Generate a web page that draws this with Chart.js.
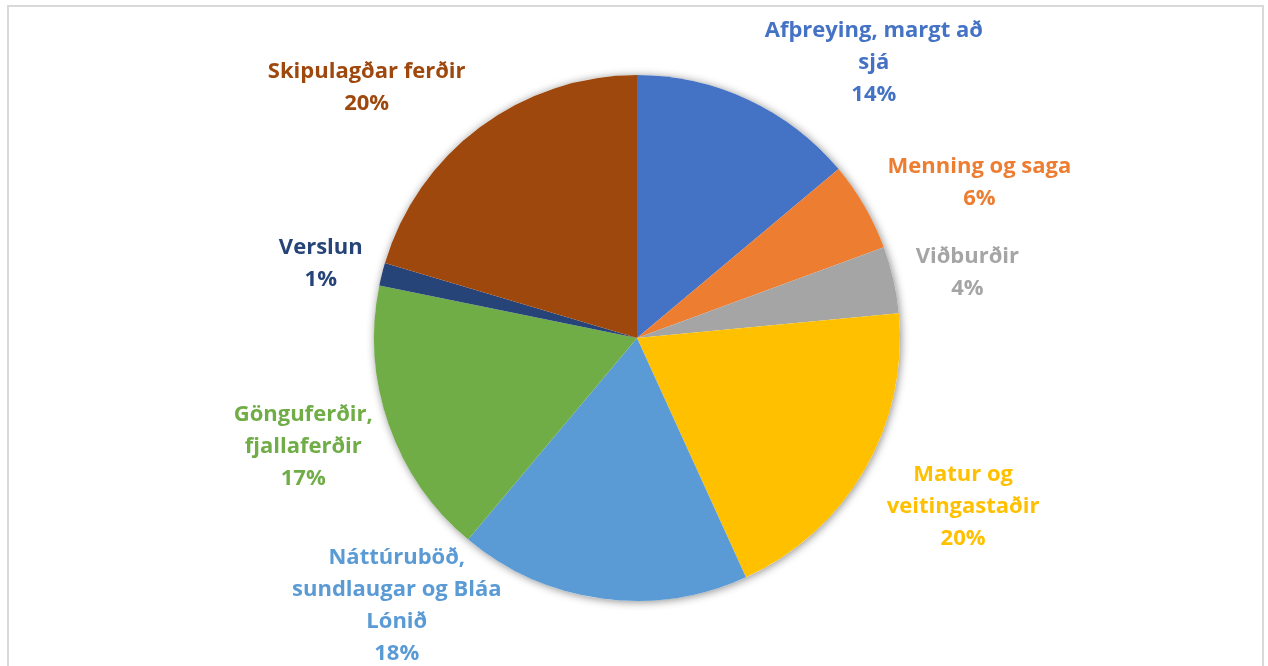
<!DOCTYPE html>
<html>
<head>
<meta charset="utf-8">
<title>Pie</title>
<script src="https://cdn.jsdelivr.net/npm/chart.js@4/dist/chart.umd.min.js"></script>
<style>
  body { margin: 0; background: #fff; }
  #wrap { position: relative; width: 1268px; height: 666px; overflow: hidden; }
  #frame { position: absolute; left: 7px; top: 5px; width: 1257px; height: 700px;
           border: 2px solid #d9d9d9; box-sizing: border-box; }
  canvas { position: absolute; left: 0; top: 0; }
</style>
</head>
<body>
<div id="wrap">
  <div id="frame"></div>
  <canvas id="chart" width="1268" height="666"></canvas>
</div>
<script>
// categories, one array of text lines each
var categories = [
  ["Afþreying, margt að", "sjá"],
  ["Menning og saga"],
  ["Viðburðir"],
  ["Matur og", "veitingastaðir"],
  ["Náttúruböð,", "sundlaugar og Bláa", "Lónið"],
  ["Gönguferðir,", "fjallaferðir"],
  ["Verslun"],
  ["Skipulagðar ferðir"]
];
var shares = [13.9, 5.5, 4.1, 19.7, 17.9, 17.1, 1.4, 20.4];
var colors = ["#4472C4", "#ED7D31", "#A5A5A5", "#FFC000", "#5B9BD5", "#70AD47", "#264478", "#9E480E"];

// small moves from the computed label spot, like excel's best fit
var labelNudge = [[71, 25], [18, 3], [4, 4], [15, 3], [-188, -76], [-1, 0], [-1, 2], [-42, 2]];

var total = shares.reduce((a, b) => a + b, 0);

var shadowPlugin = {
  id: "pieShadow",
  beforeDatasetsDraw(chart) {
    var arc = chart.getDatasetMeta(0).data[0];
    if (!arc) return;
    var ctx = chart.ctx;
    ctx.save();
    ctx.shadowColor = "rgba(0,0,0,0.45)";
    ctx.shadowBlur = 9;
    ctx.shadowOffsetX = 1;
    ctx.shadowOffsetY = 1;
    ctx.beginPath();
    ctx.arc(arc.x, arc.y, arc.outerRadius, 0, Math.PI * 2);
    ctx.fillStyle = "#fff";
    ctx.fill();
    ctx.restore();
  }
};

var labelPlugin = {
  id: "outLabels",
  afterDatasetsDraw(chart) {
    var ctx = chart.ctx;
    var lineH = 32;
    ctx.save();
    ctx.font = "bold 22px 'Open Sans', Lato, sans-serif";
    ctx.textAlign = "center";
    ctx.textBaseline = "middle";
    chart.getDatasetMeta(0).data.forEach((arc, i) => {
      var mid = (arc.startAngle + arc.endAngle) / 2;
      var r = arc.outerRadius + 20;
      var px = arc.x + Math.cos(mid) * r;
      var py = arc.y + Math.sin(mid) * r;
      var lines = categories[i].concat([Math.round(shares[i] * 100 / total) + "%"]);
      var w = Math.max.apply(null, lines.map(l => ctx.measureText(l).width));
      var h = lines.length * lineH;
      var cx = px + Math.cos(mid) * w / 2 + labelNudge[i][0];
      var cy = py + Math.sin(mid) * h / 2 + labelNudge[i][1];
      ctx.fillStyle = colors[i];
      lines.forEach((l, k) => {
        ctx.fillText(l, cx, cy - h / 2 + lineH * (k + 0.5));
      });
    });
    ctx.restore();
  }
};

var chart = new Chart(document.getElementById("chart"), {
  type: "pie",
  data: {
    labels: categories,
    datasets: [{
      data: shares,
      backgroundColor: colors,
      borderWidth: 0
    }]
  },
  options: {
    responsive: false,
    animation: false,
    layout: { padding: { top: 75, bottom: 65, left: 6, right: 0 } },
    plugins: {
      legend: { display: false },
      tooltip: { enabled: false }
    }
  },
  plugins: [shadowPlugin, labelPlugin]
});
</script>
</body>
</html>
